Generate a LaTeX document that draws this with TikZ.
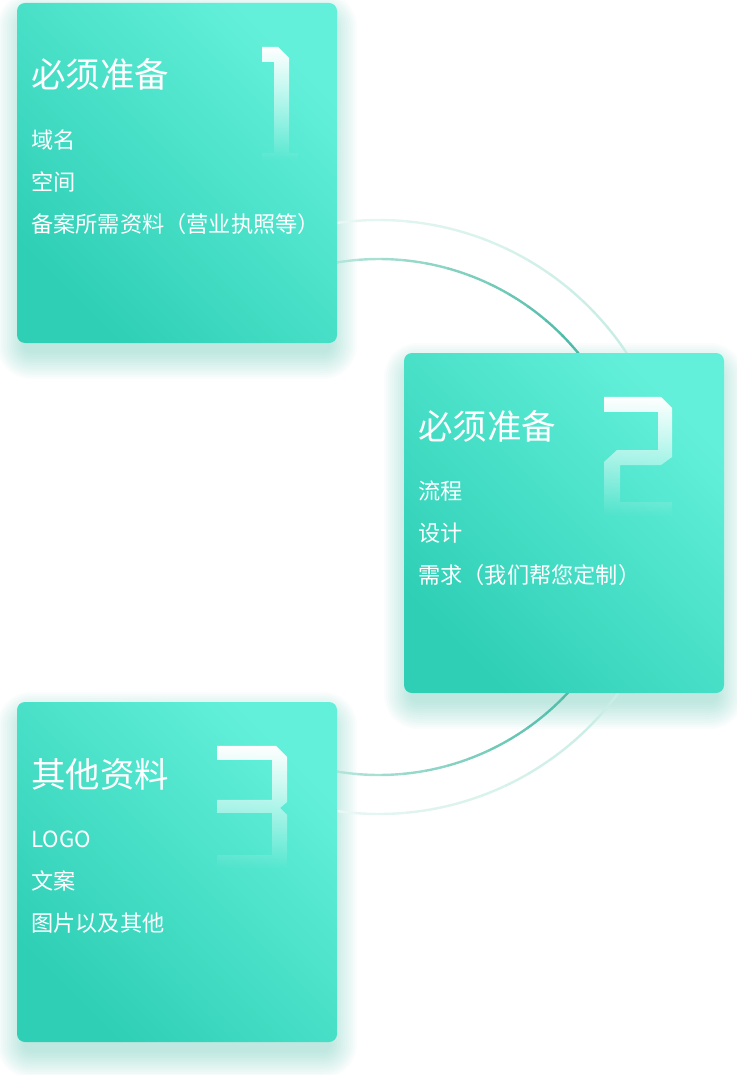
\documentclass[tikz,border=0pt]{standalone}
\usepackage{fontspec}
\setmainfont{Noto Sans CJK SC}
\usetikzlibrary{fadings}
\definecolor{cdark}{HTML}{2ECFB5}
\definecolor{clight}{HTML}{63F0DA}
\definecolor{shadowc}{HTML}{1FAE94}
\definecolor{innerdark}{HTML}{48B9A4}
\definecolor{innerlight}{HTML}{C8EDE4}
\definecolor{outerdark}{HTML}{C9EDE5}
\definecolor{outerlight}{HTML}{EEF9F6}
\tikzfading[name=digitfade, top color=transparent!0, bottom color=transparent!100]
\tikzset{
  card/.style={rounded corners=8pt, top color=clight, bottom color=cdark, shading angle=-45},
  title/.style={anchor=base west, inner sep=0pt, text=white, font=\fontsize{34.5}{34.5}\selectfont},
  item/.style={anchor=base west, inner sep=0pt, text=white, font=\fontsize{22.2}{22.2}\selectfont},
  digit/.style={fill=white, path fading=digitfade},
}
\begin{document}
\begin{tikzpicture}[x=1pt,y=-1pt]
\useasboundingbox (0,0) rectangle (736,1075);
% shadows
\foreach \ax/\ay/\bx/\by in {17/3/337/343, 404/353/724/693, 17/702/337/1042}{
  \foreach \e in {0,2,...,26}{
    \fill[shadowc, opacity=0.022, rounded corners=8pt+\e pt]
      (\ax-\e+6,\ay-\e+16) rectangle (\bx+\e-6,\by+\e+10);
  }
}
% arcs
\coordinate (c) at (379,517);
\foreach \i in {0,...,39}{
  \pgfmathsetmacro{\aone}{-99.4+\i*4.97}
  \pgfmathsetmacro{\atwo}{\aone+5.1}
  \pgfmathsetmacro{\mid}{abs(\aone+2.48)}
  \pgfmathtruncatemacro{\p}{max(15,min(100,100-(\mid-40)*85/59))}
  \draw[line width=2.4pt, draw=innerdark!\p!innerlight]
    (c) ++(\aone:258) arc[start angle=\aone, end angle=\atwo, radius=258];
  \draw[line width=2.4pt, draw=outerdark!\p!outerlight]
    (c) ++(\aone:297) arc[start angle=\aone, end angle=\atwo, radius=297];
}
% cards
\shade[card] (17,3) rectangle (337,343);
\shade[card] (404,353) rectangle (724,693);
\shade[card] (17,702) rectangle (337,1042);
% digits
\fill[digit] (262,47) -- (278,47) -- (289,58) -- (289,153) -- (298,153) -- (298,160) -- (262,160) -- (262,153) -- (274,153) -- (274,62) -- (262,62) -- cycle;
\fill[digit] (604,397) -- (661,397) -- (672,408) -- (672,457) -- (661,465) -- (620,465) -- (620,502) -- (672,502) -- (672,516) -- (604,516) -- (604,462) -- (617,450) -- (658,450) -- (658,412) -- (604,412) -- cycle;
\fill[digit] (217,746) -- (276,746) -- (287,757) -- (287,802) -- (280,808) -- (287,815) -- (287,868) -- (217,868) -- (217,855) -- (272,855) -- (272,813) -- (217,813) -- (217,800) -- (272,800) -- (272,760) -- (217,760) -- cycle;
% texts
\node[title] (t1) at (31,88) {必须准备};
\node[item] (a1) at (31,149) {域名};
\node[item] (a2) at (31,191) {空间};
\node[item] (a3) at (31,233) {备案所需资料（营业执照等）};
\node[title] (t2) at (418,439) {必须准备};
\node[item] (b1) at (418,499) {流程};
\node[item] (b2) at (418,541) {设计};
\node[item] (b3) at (418,583) {需求（我们帮您定制）};
\node[title] (t3) at (31,787) {其他资料};
\node[item] (c1) at (31,847) {LOGO};
\node[item] (c2) at (31,889) {文案};
\node[item] (c3) at (31,931) {图片以及其他};
\end{tikzpicture}
\end{document}
